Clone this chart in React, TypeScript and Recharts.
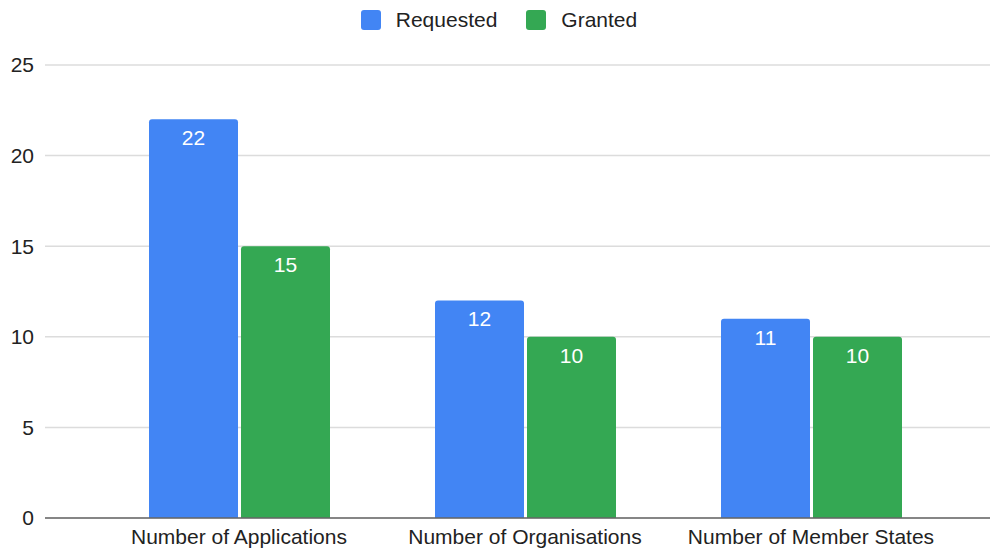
import React from "react";
import { BarChart, Bar, XAxis, YAxis, CartesianGrid, Legend, LabelList } from "recharts";

const categories = ["Number of Applications", "Number of Organisations", "Number of Member States"];
const requested = [22, 12, 11];
const granted = [15, 10, 10];
const yTicks = [0, 5, 10, 15, 20, 25];

const data = categories.map((c, i) => ({ name: c, requested: requested[i], granted: granted[i] }));

const FONT = "'Liberation Sans', Arial, Helvetica, sans-serif";
const FS = 21;

const renderLegend = () => (
  <div style={{ display: "flex", justifyContent: "center", alignItems: "center", fontFamily: FONT, fontSize: FS, color: "#222", height: 24 }}>
    <div style={{ display: "flex", alignItems: "center", marginRight: 29 }}>
      <span style={{ width: 20, height: 20, background: "#4285F4", borderRadius: 3, display: "inline-block", marginRight: 15 }} />
      <span>Requested</span>
    </div>
    <div style={{ display: "flex", alignItems: "center" }}>
      <span style={{ width: 20, height: 20, background: "#34A853", borderRadius: 3, display: "inline-block", marginRight: 15 }} />
      <span>Granted</span>
    </div>
  </div>
);

export default function App() {
  return (
    <div style={{ marginLeft: -8, marginTop: -8, background: "#fff", width: 998, height: 551 }}>
      <BarChart
        width={998}
        height={551}
        data={data}
        margin={{ top: 41, right: 0, bottom: 0, left: 0 }}
        barSize={89}
        barGap={3}
      >
        <CartesianGrid vertical={false} stroke="#dcdcdc" strokeWidth={1.5} />
        <Legend verticalAlign="top" content={renderLegend} wrapperStyle={{ top: 8, left: 0, width: 998 }} />
        <XAxis
          dataKey="name"
          axisLine={{ stroke: "#666", strokeWidth: 1.5 }}
          tickLine={false}
          height={33}
          padding={{ left: 51, right: 44 }}
          tick={{ fontFamily: FONT, fontSize: FS, fill: "#222" }}
          tickMargin={5}
        />
        <YAxis
          ticks={yTicks}
          domain={[0, 25]}
          axisLine={false}
          tickLine={false}
          width={45}
          tickMargin={5}
          tick={{ fontFamily: FONT, fontSize: FS, fill: "#222" }}
        />
        <Bar dataKey="requested" fill="#4285F4" radius={[3, 3, 0, 0]} isAnimationActive={false}>
          <LabelList dataKey="requested" position="insideTop" offset={11} fill="#fff" style={{ fontFamily: FONT, fontSize: FS }} />
        </Bar>
        <Bar dataKey="granted" fill="#34A853" radius={[3, 3, 0, 0]} isAnimationActive={false}>
          <LabelList dataKey="granted" position="insideTop" offset={11} fill="#fff" style={{ fontFamily: FONT, fontSize: FS }} />
        </Bar>
      </BarChart>
    </div>
  );
}
